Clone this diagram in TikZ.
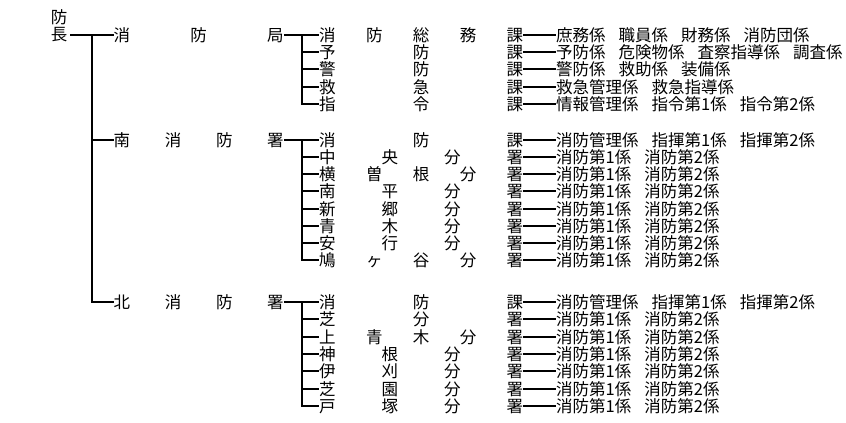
\documentclass[tikz,border=0pt]{standalone}
\usepackage{fontspec}
\newfontfamily\cjk{Noto Sans CJK JP}
\newcommand\jfont{\cjk\fontsize{16.5pt}{18pt}\selectfont}
\newcommand\Lone[1]{\hbox to 170pt{#1}}
\newcommand\Ltwo[1]{\hbox to 204pt{#1}}
\newcommand\gp{\hspace{13pt}}
\begin{document}
\begin{tikzpicture}[x=1pt,y=-1pt,
  txt/.style={inner sep=0pt, anchor=west, font=\jfont},
  conn/.style={line width=1.8pt, draw=black}]
\useasboundingbox (0,0) rectangle (846,423);
% head
\node[txt, anchor=center] (top) at (59,17) {防};
\node[txt, anchor=center] (chief) at (59,35) {長};
% level 1
\node[txt] (L1a) at (113.5,35) {\Lone{消\hfill 防\hfill 局}};
\node[txt] (L1b) at (113.5,140) {\Lone{南\hfill 消\hfill 防\hfill 署}};
\node[txt] (L1c) at (113.5,302) {\Lone{北\hfill 消\hfill 防\hfill 署}};
\coordinate (t0) at (92,35);
\draw[conn, shorten <=3pt] (chief.east) -- (L1a.west);
\draw[conn] (t0) |- (L1b.west);
\draw[conn] (t0) |- (L1c.west);
% group A
\node[txt] (a1) at (319,35) {\Ltwo{消\hfill 防\hfill 総\hfill 務\hfill 課}};
\node[txt] (a2) at (319,52) {\Ltwo{予\hfill 防\hfill 課}};
\node[txt] (a3) at (319,69) {\Ltwo{警\hfill 防\hfill 課}};
\node[txt] (a4) at (319,87) {\Ltwo{救\hfill 急\hfill 課}};
\node[txt] (a5) at (319,104) {\Ltwo{指\hfill 令\hfill 課}};
\coordinate (ta) at (302,35);
\draw[conn] (L1a.east) -- (a1.west);
\foreach \n in {a2,a3,a4,a5} \draw[conn] (ta) |- (\n.west);
\node[txt] (a1x) at (556,35) {庶務係\gp 職員係\gp 財務係\gp 消防団係};
\node[txt] (a2x) at (556,52) {予防係\gp 危険物係\gp 査察指導係\gp 調査係};
\node[txt] (a3x) at (556,69) {警防係\gp 救助係\gp 装備係};
\node[txt] (a4x) at (556,87) {救急管理係\gp 救急指導係};
\node[txt] (a5x) at (556,104) {情報管理係\gp 指令第1係\gp 指令第2係};
\foreach \n in {a1,a2,a3,a4,a5} \draw[conn] (\n.east) -- (\n x.west);
% group B
\node[txt] (b1) at (319,140) {\Ltwo{消\hfill 防\hfill 課}};
\node[txt] (b2) at (319,157) {\Ltwo{中\hfill 央\hfill 分\hfill 署}};
\node[txt] (b3) at (319,174) {\Ltwo{横\hfill 曽\hfill 根\hfill 分\hfill 署}};
\node[txt] (b4) at (319,191) {\Ltwo{南\hfill 平\hfill 分\hfill 署}};
\node[txt] (b5) at (319,209) {\Ltwo{新\hfill 郷\hfill 分\hfill 署}};
\node[txt] (b6) at (319,226) {\Ltwo{青\hfill 木\hfill 分\hfill 署}};
\node[txt] (b7) at (319,243) {\Ltwo{安\hfill 行\hfill 分\hfill 署}};
\node[txt] (b8) at (319,260) {\Ltwo{鳩\hfill ヶ\hfill 谷\hfill 分\hfill 署}};
\coordinate (tb) at (302,140);
\draw[conn] (L1b.east) -- (b1.west);
\foreach \n in {b2,b3,b4,b5,b6,b7,b8} \draw[conn] (tb) |- (\n.west);
\node[txt] (b1x) at (556,140) {消防管理係\gp 指揮第1係\gp 指揮第2係};
\foreach \n/\y in {b2/157,b3/174,b4/191,b5/209,b6/226,b7/243,b8/260}
  \node[txt] (\n x) at (556,\y) {消防第1係\gp 消防第2係};
\foreach \n in {b1,b2,b3,b4,b5,b6,b7,b8} \draw[conn] (\n.east) -- (\n x.west);
% group C
\node[txt] (c1) at (319,302) {\Ltwo{消\hfill 防\hfill 課}};
\node[txt] (c2) at (319,319) {\Ltwo{芝\hfill 分\hfill 署}};
\node[txt] (c3) at (319,337) {\Ltwo{上\hfill 青\hfill 木\hfill 分\hfill 署}};
\node[txt] (c4) at (319,354) {\Ltwo{神\hfill 根\hfill 分\hfill 署}};
\node[txt] (c5) at (319,371) {\Ltwo{伊\hfill 刈\hfill 分\hfill 署}};
\node[txt] (c6) at (319,389) {\Ltwo{芝\hfill 園\hfill 分\hfill 署}};
\node[txt] (c7) at (319,406) {\Ltwo{戸\hfill 塚\hfill 分\hfill 署}};
\coordinate (tc) at (302,302);
\draw[conn] (L1c.east) -- (c1.west);
\foreach \n in {c2,c3,c4,c5,c6,c7} \draw[conn] (tc) |- (\n.west);
\node[txt] (c1x) at (556,302) {消防管理係\gp 指揮第1係\gp 指揮第2係};
\foreach \n/\y in {c2/319,c3/337,c4/354,c5/371,c6/389,c7/406}
  \node[txt] (\n x) at (556,\y) {消防第1係\gp 消防第2係};
\foreach \n in {c1,c2,c3,c4,c5,c6,c7} \draw[conn] (\n.east) -- (\n x.west);
\end{tikzpicture}
\end{document}
